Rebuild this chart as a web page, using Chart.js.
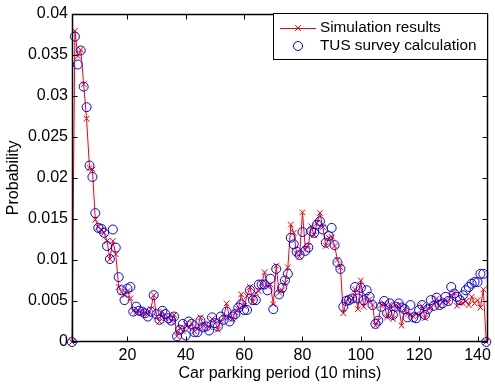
<!DOCTYPE html>
<html>
<head>
<meta charset="utf-8">
<script src="https://cdn.jsdelivr.net/npm/chart.js@4.4.1/dist/chart.umd.min.js"></script>
<style>
  html, body { margin: 0; padding: 0; background: #fff; }
</style>
</head>
<body>
<canvas id="chart" width="495" height="389"></canvas>
<script>
// parking period index, 1..143 (10 minute slots)
const periods = [];
for (let i = 1; i <= 143; i++) periods.push(i);

const simulated = [
  0, 0.0379, 0.0348, 0.0356, 0.0314, 0.0272, 0.0212, 0.0210, 0.0149, 0.0140,
  0.0137, 0.0133, 0.0123, 0.0101, 0.0123, 0.0107, 0.0067, 0.0061, 0.0057, 0.0062,
  0.0053, 0.0038, 0.0036, 0.0037, 0.0036, 0.0036, 0.0034, 0.0040, 0.0057, 0.0031,
  0.0025, 0.0037, 0.0029, 0.0030, 0.0025, 0.0033, 0.0007, 0.0017, 0.0013, 0.0022,
  0.0017, 0.0023, 0.0013, 0.0016, 0.0030, 0.0020, 0.0021, 0.0018, 0.0028, 0.0025,
  0.0015, 0.0026, 0.0030, 0.0047, 0.0030, 0.0028, 0.0036, 0.0040, 0.0058, 0.0044,
  0.0056, 0.0067, 0.0049, 0.0060, 0.0062, 0.0071, 0.0085, 0.0068, 0.0070, 0.0046,
  0.0093, 0.0060, 0.0063, 0.0072, 0.0091, 0.0143, 0.0133, 0.0108, 0.0104, 0.0158,
  0.0113, 0.0117, 0.0141, 0.0130, 0.0145, 0.0157, 0.0140, 0.0117, 0.0127, 0.0128,
  0.0117, 0.0100, 0.0091, 0.0035, 0.0049, 0.0054, 0.0051, 0.0064, 0.0040, 0.0075,
  0.0043, 0.0055, 0.0052, 0.0045, 0.0020, 0.0026, 0.0045, 0.0047, 0.0030, 0.0046,
  0.0028, 0.0045, 0.0043, 0.0020, 0.0041, 0.0034, 0.0033, 0.0031, 0.0034, 0.0033,
  0.0044, 0.0029, 0.0041, 0.0042, 0.0046, 0.0053, 0.0044, 0.0049, 0.0051, 0.0048,
  0.0057, 0.0060, 0.0044, 0.0048, 0.0047, 0.0050, 0.0045, 0.0055, 0.0047, 0.0051,
  0.0042, 0.0064, 0
];

const survey = [
  0, 0.0372, 0.0338, 0.0355, 0.0311, 0.0286, 0.0215, 0.0201, 0.0157, 0.0139,
  0.0138, 0.0133, 0.0117, 0.0101, 0.0137, 0.0115, 0.0079, 0.0063, 0.0051, 0.0065,
  0.0067, 0.0037, 0.0043, 0.0038, 0.0037, 0.0035, 0.0031, 0.0037, 0.0057, 0.0034,
  0.0027, 0.0038, 0.0034, 0.0029, 0.0026, 0.0031, 0.0007, 0.0015, 0.0022, 0.0008,
  0.0025, 0.0022, 0.0012, 0.0012, 0.0026, 0.0018, 0.0019, 0.0014, 0.0030, 0.0023,
  0.0019, 0.0031, 0.0027, 0.0037, 0.0025, 0.0031, 0.0034, 0.0042, 0.0046, 0.0039,
  0.0039, 0.0063, 0.0051, 0.0051, 0.0070, 0.0070, 0.0070, 0.0063, 0.0077, 0.0040,
  0.0089, 0.0058, 0.0066, 0.0075, 0.0083, 0.0127, 0.0119, 0.0110, 0.0106, 0.0134,
  0.0111, 0.0115, 0.0135, 0.0133, 0.0143, 0.0147, 0.0137, 0.0121, 0.0129, 0.0139,
  0.0118, 0.0097, 0.0089, 0.0043, 0.0050, 0.0051, 0.0053, 0.0067, 0.0053, 0.0066,
  0.0051, 0.0063, 0.0055, 0.0045, 0.0022, 0.0026, 0.0043, 0.0050, 0.0035, 0.0047,
  0.0033, 0.0043, 0.0047, 0.0042, 0.0040, 0.0030, 0.0045, 0.0030, 0.0029, 0.0039,
  0.0045, 0.0033, 0.0040, 0.0051, 0.0044, 0.0054, 0.0045, 0.0047, 0.0055, 0.0050,
  0.0067, 0.0059, 0.0055, 0.0051, 0.0057, 0.0063, 0.0067, 0.0071, 0.0073, 0.0073,
  0.0083, 0.0083, 0
];

const xTickValues = [20, 40, 60, 80, 100, 120, 140];
const yTickValues = [0, 0.005, 0.01, 0.015, 0.02, 0.025, 0.03, 0.035, 0.04];
const yTickLabels = ['0', '0.005', '0.01', '0.015', '0.02', '0.025', '0.03', '0.035', '0.04'];
const seriesNames = ['Simulation results', 'TUS survey calculation'];

const FONT = '"Liberation Sans", Arial, sans-serif';
Chart.defaults.font.family = FONT;
Chart.defaults.font.size = 16;
Chart.defaults.color = '#000';

// box around the plot with inward ticks on all four sides
const frame = {
  id: 'frame',
  afterDatasetsDraw(chart) {
    const { ctx, chartArea: a, scales } = chart;
    const L = Math.round(a.left) + 0.5, R = Math.round(a.right) - 0.5;
    const T = Math.round(a.top) + 0.5, B = Math.round(a.bottom) - 0.5;
    ctx.save();
    ctx.strokeStyle = '#000';
    ctx.lineWidth = 1;
    ctx.beginPath();
    xTickValues.forEach(v => {
      const x = Math.round(scales.x.getPixelForValue(v)) + 0.5;
      ctx.moveTo(x, B); ctx.lineTo(x, B - 5);
      ctx.moveTo(x, T); ctx.lineTo(x, T + 5);
    });
    yTickValues.forEach(v => {
      const y = Math.round(scales.y.getPixelForValue(v)) + 0.5;
      ctx.moveTo(L, y); ctx.lineTo(L + 5, y);
      ctx.moveTo(R, y); ctx.lineTo(R - 5, y);
    });
    ctx.stroke();
    ctx.lineWidth = 1.5;
    ctx.strokeRect(L, T, R - L, B - T);
    ctx.restore();
  }
};

// boxed legend in the upper right corner, one row per series name
const boxLegend = {
  id: 'boxLegend',
  afterDraw(chart) {
    const { ctx } = chart;
    const x0 = 273, y0 = 13, w = 214, h = 46;
    ctx.save();
    ctx.fillStyle = '#fff';
    ctx.fillRect(x0, y0, w, h);
    ctx.strokeStyle = '#000';
    ctx.lineWidth = 1;
    ctx.strokeRect(x0 + 0.5, y0 + 0.5, w, h);
    ctx.font = '15.3px ' + FONT;
    ctx.textBaseline = 'middle';
    const rows = [y0 + 15, y0 + 33];
    seriesNames.forEach((name, i) => {
      const ds = chart.data.datasets.find(d => d.label === name);
      const y = rows[i];
      const mx = x0 + 25;
      if (ds.showLine !== false) {
        ctx.strokeStyle = ds.borderColor;
        ctx.lineWidth = 1;
        ctx.beginPath();
        ctx.moveTo(x0 + 7, y + 0.5);
        ctx.lineTo(x0 + 43, y + 0.5);
        ctx.stroke();
      }
      ctx.strokeStyle = ds.pointBorderColor;
      ctx.fillStyle = ds.pointBackgroundColor;
      ctx.lineWidth = ds.pointBorderWidth;
      Chart.helpers.drawPoint(ctx, {
        pointStyle: ds.pointStyle,
        radius: ds.pointRadius,
        borderWidth: ds.pointBorderWidth
      }, mx, y);
      ctx.fillStyle = '#000';
      ctx.fillText(name, x0 + 47, y);
    });
    ctx.restore();
  }
};

const ctx = document.getElementById('chart').getContext('2d');
const chart = new Chart(ctx, {
  type: 'line',
  data: {
    datasets: [
      {
        label: seriesNames[1],
        data: periods.map((p, i) => ({ x: p, y: survey[i] })),
        showLine: false,
        pointStyle: 'circle',
        pointRadius: 4.5,
        pointBorderWidth: 1,
        pointBorderColor: '#0000ff',
        pointBackgroundColor: 'rgba(0,0,0,0)',
        borderColor: '#0000ff',
        clip: false,
        order: 1
      },
      {
        label: seriesNames[0],
        data: periods.map((p, i) => ({ x: p, y: simulated[i] })),
        borderColor: '#ff0000',
        borderWidth: 1,
        pointStyle: 'crossRot',
        pointRadius: 4,
        pointBorderWidth: 1,
        pointBorderColor: '#ff0000',
        pointBackgroundColor: '#ff0000',
        tension: 0,
        clip: false,
        order: 2
      }
    ]
  },
  options: {
    responsive: false,
    animation: false,
    events: [],
    layout: { padding: { left: 0, right: 2, top: 9, bottom: 0 } },
    plugins: { legend: { display: false }, tooltip: { enabled: false } },
    scales: {
      x: {
        type: 'linear',
        min: 1,
        max: 143.5,
        grid: { display: false, drawTicks: false },
        border: { display: false },
        afterBuildTicks: s => { s.ticks = xTickValues.map(v => ({ value: v })); },
        afterFit: s => { s.height = 47; },
        ticks: { padding: 4, maxRotation: 0, autoSkip: false },
        title: { display: true, text: 'Car parking period (10 mins)', padding: { top: 0, bottom: 6 } }
      },
      y: {
        min: 0,
        max: 0.04,
        grid: { display: false, drawTicks: false },
        border: { display: false },
        afterBuildTicks: s => { s.ticks = yTickValues.map(v => ({ value: v })); },
        afterFit: s => { s.width = 72; },
        ticks: {
          padding: 4,
          autoSkip: false,
          callback: (v, i) => yTickLabels[i]
        },
        title: { display: true, text: 'Probability', padding: { top: 4, bottom: 0 } }
      }
    }
  },
  plugins: [frame, boxLegend]
});
</script>
</body>
</html>
